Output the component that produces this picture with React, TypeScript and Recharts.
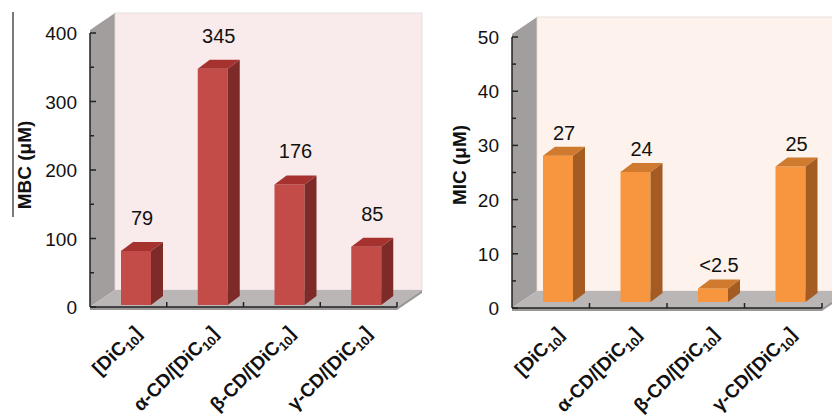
import { BarChart, Bar, XAxis, YAxis, ReferenceArea, LabelList, Label } from "recharts";

const compounds = ["[DiC10]", "α-CD/[DiC10]", "β-CD/[DiC10]", "γ-CD/[DiC10]"];

const mbc = [79, 345, 176, 85];
const mbcLabels = ["79", "345", "176", "85"];
const mbcTicks = [0, 50, 100, 150, 200, 250, 300, 350, 400];

const mic = [27, 24, 2.5, 25];
const micLabels = ["27", "24", "<2.5", "25"];
const micTicks = [0, 5, 10, 15, 20, 25, 30, 35, 40, 45, 50];

const FONT = "'Liberation Sans', Arial, Helvetica, sans-serif";

// 3D look: depth of the box (walls) and of the bars
const WALL_DX = 25;
const WALL_DY = 17;
const BAR_DX = 12;
const BAR_DY = 9;

const Walls = (props: any) => {
  const { x, y, width, height, back } = props;
  const x0 = x;
  const x1 = x + width;
  const yt = y - 3;
  const yb = y + height;
  return (
    <g>
      <polygon
        points={`${x0},${yt} ${x0 + WALL_DX},${yt - WALL_DY} ${x0 + WALL_DX},${yb - WALL_DY} ${x0},${yb}`}
        fill="#a29e9e"
      />
      <rect
        x={x0 + WALL_DX}
        y={yt - WALL_DY}
        width={width}
        height={yb - yt}
        fill={back}
        stroke="#e6d9d9"
        strokeWidth={0.8}
      />
      <polygon
        points={`${x0},${yb} ${x0 + WALL_DX},${yb - WALL_DY} ${x1 + WALL_DX},${yb - WALL_DY} ${x1},${yb}`}
        fill="#bbb6b6"
      />
      <polygon
        points={`${x0},${yb} ${x1},${yb} ${x1 + WALL_DX},${yb - WALL_DY} ${x1 + WALL_DX},${yb - WALL_DY + 3} ${x1},${yb + 3} ${x0},${yb + 3}`}
        fill="#9c9898"
      />
    </g>
  );
};

const Box3D = (props: any) => {
  const { x, y, width, height, front, side, top, shift, lift } = props;
  if (height <= 0) return null;
  const bx = x + shift;
  const by = y - lift;
  const r = bx + width;
  const b = by + height;
  return (
    <g>
      <rect x={bx} y={by} width={width} height={height} fill={front} />
      <polygon
        points={`${r},${by} ${r + BAR_DX},${by - BAR_DY} ${r + BAR_DX},${b - BAR_DY} ${r},${b}`}
        fill={side}
      />
      <polygon
        points={`${bx},${by} ${bx + BAR_DX},${by - BAR_DY} ${r + BAR_DX},${by - BAR_DY} ${r},${by}`}
        fill={top}
      />
    </g>
  );
};

const YTick = (props: any) => {
  const { x, y, payload, major } = props;
  const ax = x + 13;
  const isMajor = payload.value % major === 0;
  return (
    <g>
      <line x1={ax} x2={ax + (isMajor ? 6 : 4)} y1={y} y2={y} stroke="#222" strokeWidth={1.5} />
      {isMajor && (
        <text x={x} y={y} dy={7} textAnchor="end" fontSize={19} fontFamily={FONT} fill="#111">
          {payload.value}
        </text>
      )}
    </g>
  );
};

const XTick = (props: any) => {
  const { x, y, payload, band } = props;
  const name: string = payload.value;
  const cut = name.indexOf("DiC10");
  const head = name.slice(0, cut + 3);
  return (
    <g>
      <line x1={x + band / 2} x2={x + band / 2} y1={y} y2={y - 5} stroke="#222" strokeWidth={1.5} />
      <g transform={`translate(${x + 14},${y + 27}) rotate(-45)`}>
        <text x={0} y={0} textAnchor="end" fontSize={19} fontWeight="bold" fontFamily={FONT} fill="#111">
          {head}
          <tspan fontSize={13} dy={4}>10</tspan>
          <tspan dy={-4}>]</tspan>
        </text>
      </g>
    </g>
  );
};

type PanelProps = {
  rows: { name: string; value: number; label: string }[];
  ticks: number[];
  major: number;
  title: string;
  titleX: number;
  line: boolean;
  left: number;
  width: number;
  margin: { top: number; right: number; bottom: number; left: number };
  back: string;
  front: string;
  side: string;
  top: string;
  shift: number;
  lift: number;
  labelGap: number;
};

const Panel = (p: PanelProps) => {
  const max = p.ticks[p.ticks.length - 1];
  const band = (p.width - p.margin.left - 60 - p.margin.right) / p.rows.length;
  return (
    <div style={{ position: "absolute", left: p.left, top: 0 }}>
      <BarChart width={p.width} height={419} data={p.rows} margin={p.margin} barSize={30}>
        <ReferenceArea y1={0} y2={max} ifOverflow="visible" shape={<Walls back={p.back} />} />
        <XAxis
          dataKey="name"
          height={100}
          interval={0}
          tickLine={false}
          tickSize={0}
          tickMargin={0}
          axisLine={{ stroke: "#222", strokeWidth: 1.5 }}
          tick={<XTick band={band} />}
        />
        <YAxis
          width={60}
          domain={[0, max]}
          ticks={p.ticks}
          interval={0}
          tickLine={false}
          tickSize={0}
          tickMargin={13}
          axisLine={{ stroke: "#222", strokeWidth: 1.5 }}
          tick={<YTick major={p.major} />}
        >
          <Label
            content={() => (
              <g>
                {p.line && <line x1={13} x2={13} y1={12} y2={217} stroke="#222" strokeWidth={1.2} />}
                <text
                  transform={`translate(${p.titleX},165) rotate(-90)`}
                  textAnchor="middle"
                  dominantBaseline="central"
                  fontSize={19}
                  fontWeight="bold"
                  fontFamily={FONT}
                  fill="#111"
                >
                  {p.title}
                </text>
              </g>
            )}
          />
        </YAxis>
        <Bar
          dataKey="value"
          isAnimationActive={false}
          shape={(s: any) => (
            <Box3D {...s} front={p.front} side={p.side} top={p.top} shift={p.shift} lift={p.lift} />
          )}
        >
          <LabelList
            dataKey="label"
            content={(l: any) => (
              <text
                x={l.x + l.width / 2 + p.shift + 6}
                y={l.y - p.lift - p.labelGap}
                dy={7}
                textAnchor="middle"
                fontSize={20}
                fontFamily={FONT}
                fill="#111"
              >
                {l.value}
              </text>
            )}
          />
        </Bar>
      </BarChart>
    </div>
  );
};

const mbcRows = compounds.map((name, i) => ({ name, value: mbc[i], label: mbcLabels[i] }));
const micRows = compounds.map((name, i) => ({ name, value: mic[i], label: micLabels[i] }));

export default function App() {
  return (
    <div style={{ position: "absolute", left: 0, top: 0, width: 832, height: 419, background: "#fff", overflow: "hidden" }}>
      <Panel
        rows={mbcRows}
        ticks={mbcTicks}
        major={100}
        title="MBC (μM)"
        titleX={24}
        line={true}
        left={0}
        width={430}
        margin={{ top: 33, right: 33, bottom: 12, left: 30 }}
        back="#f9ebeb"
        front="#c34b48"
        side="#7d2a29"
        top="#a5322f"
        shift={8}
        lift={2}
        labelGap={33}
      />
      <Panel
        rows={micRows}
        ticks={micTicks}
        major={10}
        title="MIC (μM)"
        titleX={39}
        line={false}
        left={420}
        width={412}
        margin={{ top: 37, right: 10, bottom: 11, left: 32 }}
        back="#fdf2ec"
        front="#f8953f"
        side="#a45c22"
        top="#cf7a2e"
        shift={7}
        lift={6}
        labelGap={23}
      />
    </div>
  );
}
